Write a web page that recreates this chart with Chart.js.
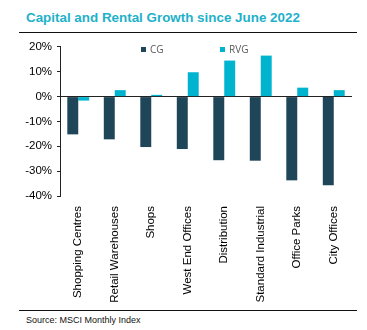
<!DOCTYPE html>
<html>
<head>
<meta charset="utf-8">
<script src="https://cdn.jsdelivr.net/npm/chart.js@4"></script>
<style>
  body { margin: 0; background: #fff; width: 367px; height: 330px; position: relative; overflow: hidden; font-family: "Liberation Sans", Arial, sans-serif; }
  #title { position: absolute; left: 26px; top: 10px; font-size: 13.4px; font-weight: bold; color: #1eb1c9; white-space: nowrap; }
  .rule { position: absolute; left: 19px; width: 338px; height: 1px; background: #111; }
  #source { position: absolute; left: 26px; top: 315px; font-size: 9px; color: #111; white-space: nowrap; }
  #wrap { position: absolute; left: 0; top: 35px; width: 367px; height: 270px; }
  #legend { position: absolute; top: 42px; left: 0; font-family: "Open Sans", sans-serif; font-size: 10px; color: #595959; }
  .item { position: absolute; white-space: nowrap; }
  .sw { display: inline-block; width: 5px; height: 5px; margin-right: 4px; vertical-align: 1px; }
</style>
</head>
<body>
<div id="title">Capital and Rental Growth since June 2022</div>
<div class="rule" style="top:32px"></div>
<div id="wrap"><canvas id="chart"></canvas></div>
<div id="legend"></div>
<div class="rule" style="top:310px"></div>
<div id="source">Source: MSCI Monthly Index</div>
<script>
const categories = ["Shopping Centres", "Retail Warehouses", "Shops", "West End Offices",
  "Distribution", "Standard Industrial", "Office Parks", "City Offices"];
const seriesNames = ["CG", "RVG"];
const cgValues = [-15.2, -17.2, -20.3, -21.1, -25.6, -25.8, -33.7, -35.7];
const rvgValues = [-1.6, 2.6, 0.7, 9.8, 14.5, 16.5, 3.6, 2.6];
const seriesColors = ["#1f4559", "#00b4d0"];
const yTicks = [-40, -30, -20, -10, 0, 10, 20];

// legend (html, placed over the plot like the original)
const legendX = [141, 220];
const legend = document.getElementById("legend");
seriesNames.forEach((name, i) => {
  const el = document.createElement("div");
  el.className = "item";
  el.style.left = legendX[i] + "px";
  el.innerHTML = `<span class="sw" style="background:${seriesColors[i]}"></span>${name}`;
  legend.appendChild(el);
});

const tickFont = { family: "'Liberation Sans', Arial, sans-serif", size: 11.5 };

new Chart(document.getElementById("chart"), {
  type: "bar",
  data: {
    labels: categories,
    datasets: [
      { label: seriesNames[0], data: cgValues, backgroundColor: seriesColors[0] },
      { label: seriesNames[1], data: rvgValues, backgroundColor: seriesColors[1] }
    ]
  },
  options: {
    responsive: true,
    maintainAspectRatio: false,
    animation: false,
    layout: { padding: { top: 3, right: 15, left: 0, bottom: 0 } },
    datasets: { bar: { categoryPercentage: 0.6, barPercentage: 1.0 } },
    plugins: { legend: { display: false }, tooltip: { enabled: false } },
    scales: {
      x: {
        grid: { display: false },
        border: { display: false },
        ticks: { color: "#000", font: tickFont, minRotation: 90, maxRotation: 90, padding: 2, autoSkip: false },
        afterFit: s => { s.height = 109; }
      },
      y: {
        min: yTicks[0],
        max: yTicks[yTicks.length - 1],
        afterBuildTicks: s => { s.ticks = yTicks.map(v => ({ value: v })); },
        grid: {
          color: c => (c.tick && c.tick.value === 0 ? "#222" : "rgba(0,0,0,0)"),
          tickColor: "#222",
          tickLength: 3,
          lineWidth: 1
        },
        border: { display: true, color: "#222", width: 1 },
        ticks: { color: "#000", font: tickFont, padding: 5, callback: v => v + "%" },
        afterFit: s => { s.width = 60; }
      }
    }
  }
});
</script>
</body>
</html>
